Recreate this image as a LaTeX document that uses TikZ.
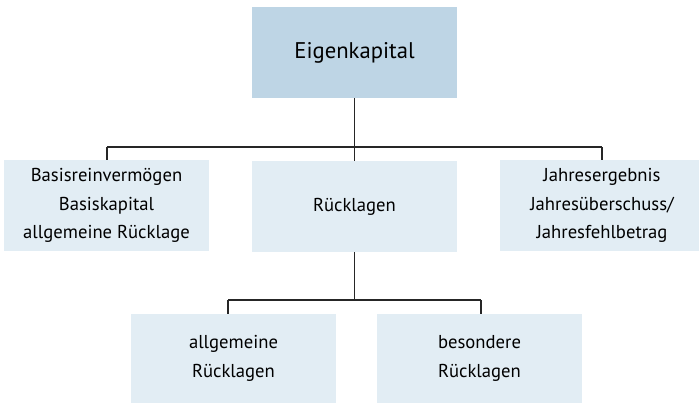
\documentclass[tikz,border=0pt]{standalone}
\usepackage{fontspec}
\setmainfont{PT Sans}
\usetikzlibrary{positioning}

\definecolor{topblue}{HTML}{BED5E5}
\definecolor{lightblue}{HTML}{E2EDF4}

\tikzset{
	kbox/.style={fill=lightblue, minimum width=205*0.75pt, minimum height=91*0.75pt, align=center, font=\fontsize{14}{21.5}\selectfont, inner sep=0pt},
	topbox/.style={kbox, fill=topblue, font=\fontsize{17}{20}\selectfont},
	link/.style={line width=0.8pt, color=black!85}
}

\begin{document}
\begin{tikzpicture}[x=0.75pt,y=-0.75pt]
		\useasboundingbox (0,0) rectangle (699,403);

		\draw (354.5,52.5) node [topbox] (kapital) {Eigenkapital};
		\draw (106.5,205.5) node [kbox] (basis) {Basisreinvermögen\\Basiskapital\\allgemeine Rücklage};
		\draw (354.5,206.5) node [kbox] (ruecklagen) {Rücklagen};
		\draw (602,205.5) node [kbox] (ergebnis) {Jahresergebnis\\Jahresüberschuss/\\Jahresfehlbetrag};
		\draw (233.5,358.5) node [kbox, minimum height=89*0.75pt] (allgemein) {allgemeine\\Rücklagen};
		\draw (479.5,358.5) node [kbox, minimum height=89*0.75pt] (besonders) {besondere\\Rücklagen};

		\coordinate (busl) at (107,147);
		\coordinate (busr) at (602,147);
		\coordinate (subl) at (228,300);
		\coordinate (subr) at (481,300);

		\draw [link]
			(kapital.south) -- (kapital |- busl)
			(busl) -- (busr)
			(busl) -- (busl |- basis.north)
			(kapital |- busl) -- (ruecklagen.north)
			(busr) -- (busr |- ergebnis.north)
			(ruecklagen.south) -- (ruecklagen |- subl)
			(subl) -- (subr)
			(subl) -- (subl |- allgemein.north)
			(subr) -- (subr |- besonders.north)
		;
	\end{tikzpicture}
\end{document}
